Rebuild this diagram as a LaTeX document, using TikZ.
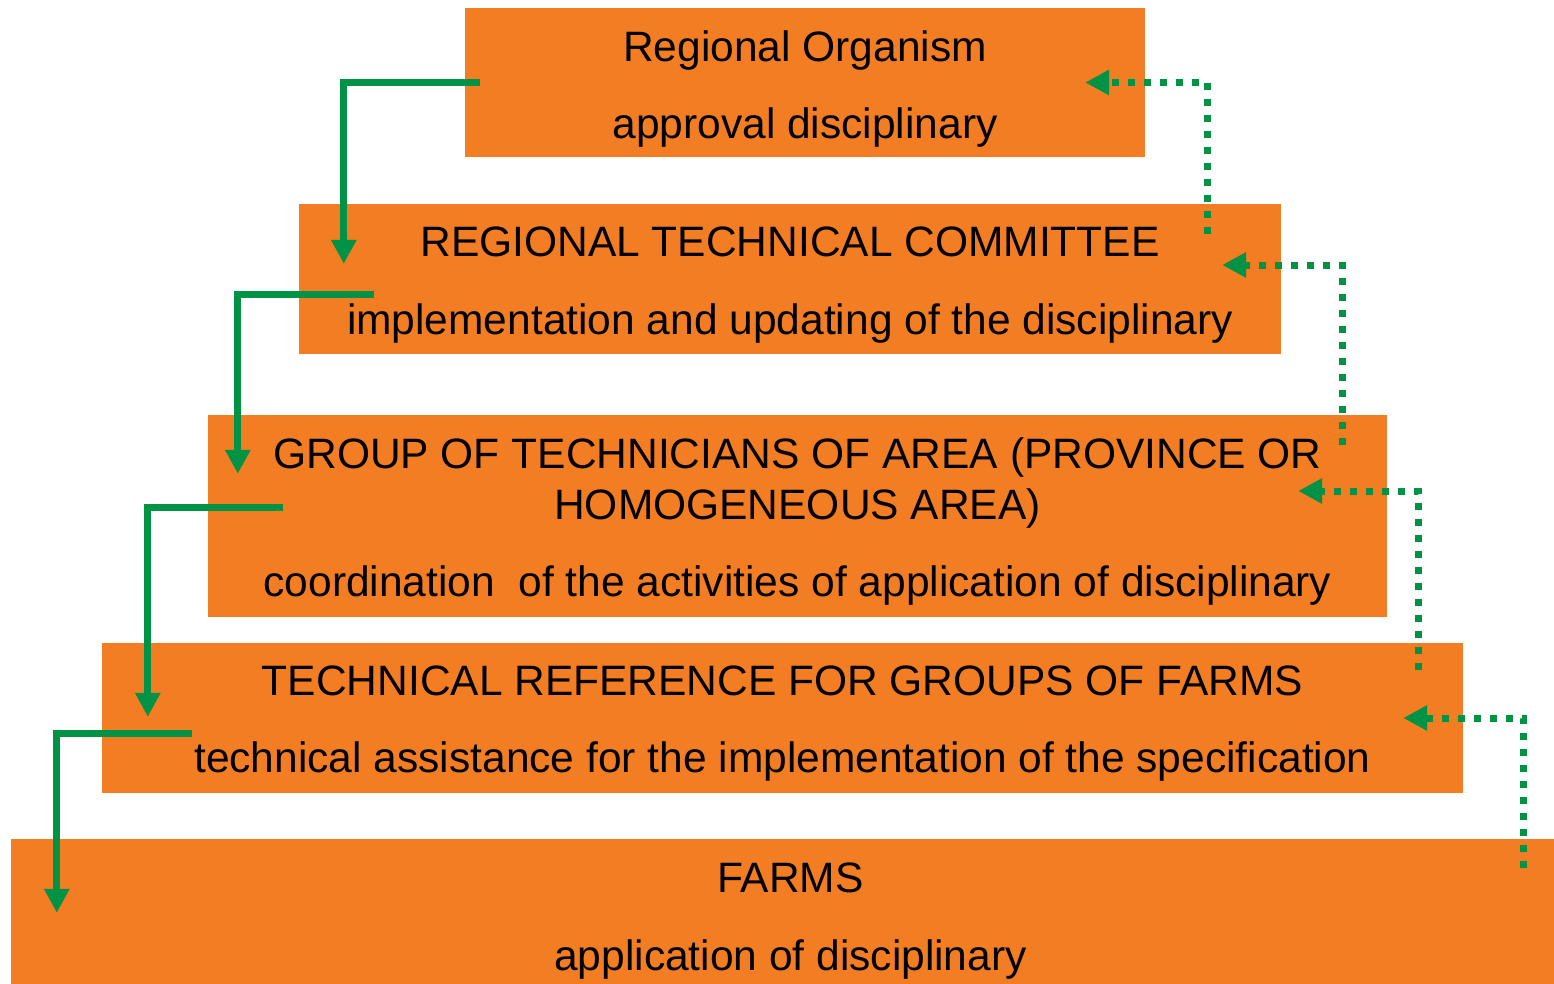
\documentclass[tikz,border=0pt]{standalone}
\usepackage{fontspec}
\setmainfont{Liberation Sans}
\usepackage{xcolor}
\usetikzlibrary{positioning, arrows.meta}

\definecolor{boxorange}{HTML}{F37D22}
\definecolor{flowgreen}{HTML}{009245}

% extra room above the first line of a level
\newcommand{\headroom}[1]{\rule{0pt}{#1}}

\begin{document}
\begin{tikzpicture}[x=1pt, y=-1pt,
  level/.style={fill=boxorange, inner sep=0pt, align=center,
    font=\fontsize{42.5}{51}\selectfont},
  down/.style={flowgreen, line width=7pt, -{Triangle[length=24pt, width=24pt]}},
  back/.style={flowgreen, line width=7pt, dash pattern=on 7pt off 9pt,
    -{Triangle[length=24pt, width=24pt]}}]

\useasboundingbox (0,0) rectangle (1554,984);

% Levels
\node[level, minimum width=680pt, minimum height=149pt] (org) at (805,82.5)
  {\headroom{43pt}Regional Organism\\[26pt]approval disciplinary};
\node[level, minimum width=982pt, minimum height=150pt] (rtc) at (790,279)
  {\headroom{41pt}REGIONAL TECHNICAL COMMITTEE\\[27pt]implementation and updating of the disciplinary};
\node[level, minimum width=1179pt, minimum height=202pt] (grp) at (797.5,516)
  {\headroom{41pt}GROUP OF TECHNICIANS OF AREA (PROVINCE OR\\HOMOGENEOUS AREA)\\[26pt]coordination\ \ of the activities of application of disciplinary};
\node[level, minimum width=1361pt, minimum height=150pt] (ref) at (782.5,718)
  {\headroom{41pt}TECHNICAL REFERENCE FOR GROUPS OF FARMS\\[26pt]technical assistance for the implementation of the specification};
\node[level, minimum width=1543pt, minimum height=145pt] (farm) at (782.5,911.5)
  {\headroom{48pt}\hspace{16pt}FARMS\\[27pt]\hspace{16pt}application of disciplinary};

% Downward flow
\draw[down] ([xshift=15pt]org.west) -| ([xshift=45pt, yshift=-60pt]rtc.north west);
\draw[down] ([xshift=75pt, yshift=-15pt]rtc.west) -| ([xshift=30pt, yshift=-59pt]grp.north west);
\draw[down] ([xshift=75pt, yshift=9pt]grp.west) -| ([xshift=46pt, yshift=-74pt]ref.north west);
\draw[down] ([xshift=90pt, yshift=-15pt]ref.west) -| ([xshift=46pt, yshift=-74pt]farm.north west);

% Feedback (dotted)
\draw[back] ([xshift=-74pt, yshift=-30pt]rtc.north east) |- ([xshift=-60pt]org.east);
\draw[back] ([xshift=-45pt, yshift=-30pt]grp.north east) |- ([xshift=-59pt, yshift=14pt]rtc.east);
\draw[back] ([xshift=-45pt, yshift=-27pt]ref.north east) |- ([xshift=-89pt, yshift=25pt]grp.east);
\draw[back] ([xshift=-31pt, yshift=-29pt]farm.north east) |- ([xshift=-60pt]ref.east);

\end{tikzpicture}
\end{document}
